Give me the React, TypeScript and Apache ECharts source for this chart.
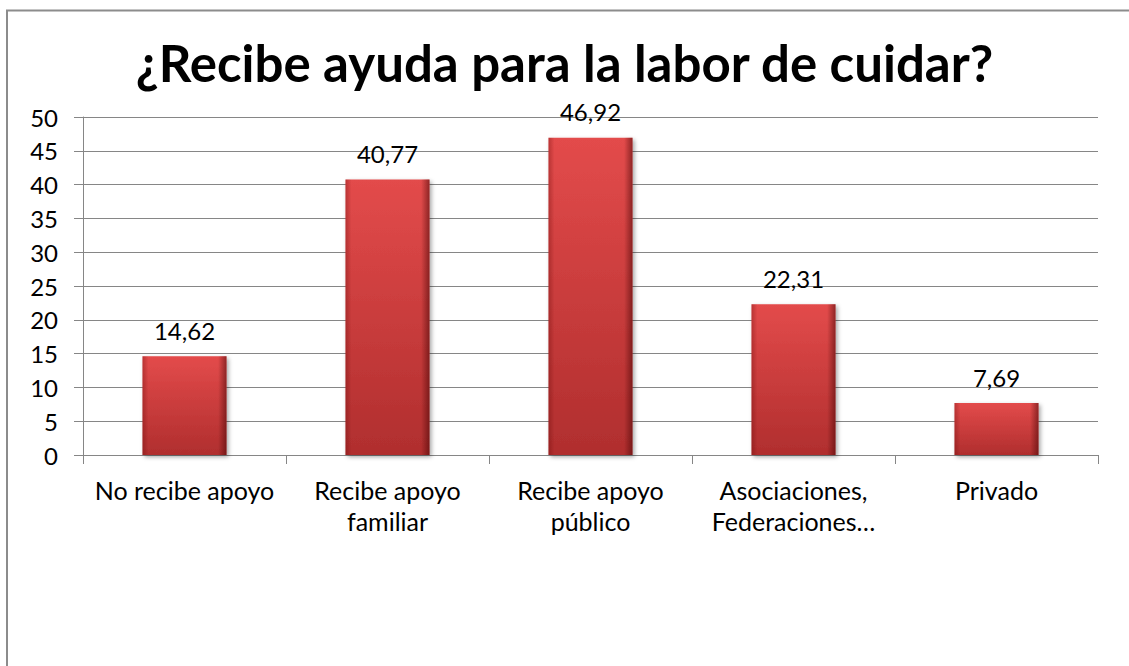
import React, { useEffect, useRef } from "react";
import * as echarts from "echarts";

const titleText = "¿Recibe ayuda para la labor de cuidar?";
const categories = [
  "No recibe apoyo",
  "Recibe apoyo\nfamiliar",
  "Recibe apoyo\npúblico",
  "Asociaciones,\nFederaciones…",
  "Privado",
];
const values = [14.62, 40.77, 46.92, 22.31, 7.69];
const yMin = 0;
const yMax = 50;
const yInterval = 5;

const FONT = "Lato";

export default function App() {
  const ref = useRef<HTMLDivElement>(null);
  useEffect(() => {
    if (!ref.current) return;
    const chart = echarts.init(ref.current, undefined, { renderer: "svg" });
    const gridColor = "#868686";
    chart.setOption({
      animation: false,
      backgroundColor: "#ffffff",
      title: {
        text: titleText,
        left: "center",
        top: 32,
        textStyle: {
          fontFamily: FONT,
          fontWeight: "bold",
          fontSize: 51,
          color: "#000",
        },
      },
      graphic: [
        {
          type: "rect",
          shape: { x: 7, y: 10.5, width: 1300, height: 900 },
          style: { fill: "none", stroke: "#8c8c8c", lineWidth: 2 },
          silent: true,
        },
      ],
      grid: { left: 83, right: 31, top: 117, bottom: 211 },
      xAxis: {
        type: "category",
        data: categories,
        axisLine: { show: true, lineStyle: { color: gridColor, width: 1 } },
        axisTick: { show: true, length: 9, lineStyle: { color: gridColor } },
        axisLabel: {
          fontFamily: FONT,
          fontSize: 25,
          color: "#000",
          margin: 19,
          lineHeight: 31,
          interval: 0,
        },
      },
      yAxis: {
        type: "value",
        min: yMin,
        max: yMax,
        interval: yInterval,
        axisLine: { show: true, lineStyle: { color: gridColor, width: 1 } },
        axisTick: { show: true, length: 9, lineStyle: { color: gridColor } },
        splitLine: { show: true, lineStyle: { color: gridColor, width: 1 } },
        axisLabel: {
          fontFamily: FONT,
          fontSize: 24,
          color: "#000",
          margin: 25,
        },
      },
      series: [
        {
          type: "bar",
          data: values,
          barWidth: 84,
          itemStyle: {
            color: new echarts.graphic.LinearGradient(0, 0, 0, 1, [
              { offset: 0, color: "#e34b4b" },
              { offset: 1, color: "#b02e2e" },
            ]),
            shadowColor: "rgba(0,0,0,0.35)",
            shadowBlur: 4,
            shadowOffsetX: 2,
            shadowOffsetY: 2,
          },
          label: {
            show: true,
            position: "top",
            distance: 14,
            fontFamily: FONT,
            fontSize: 24,
            color: "#000",
            formatter: (p: any) => String(p.value.toFixed(2)).replace(".", ","),
          },
        },
        {
          type: "bar",
          data: values,
          barWidth: 84,
          barGap: "-100%",
          silent: true,
          itemStyle: {
            color: new echarts.graphic.LinearGradient(0, 0, 1, 0, [
              { offset: 0, color: "rgba(90,0,0,0.3)" },
              { offset: 0.07, color: "rgba(90,0,0,0)" },
              { offset: 0.9, color: "rgba(60,0,0,0)" },
              { offset: 1, color: "rgba(60,0,0,0.5)" },
            ]),
          },
        },
      ],
    });
    return () => chart.dispose();
  }, []);
  return (
    <div
      ref={ref}
      style={{ position: "absolute", left: 0, top: 0, width: 1129, height: 666 }}
    />
  );
}
